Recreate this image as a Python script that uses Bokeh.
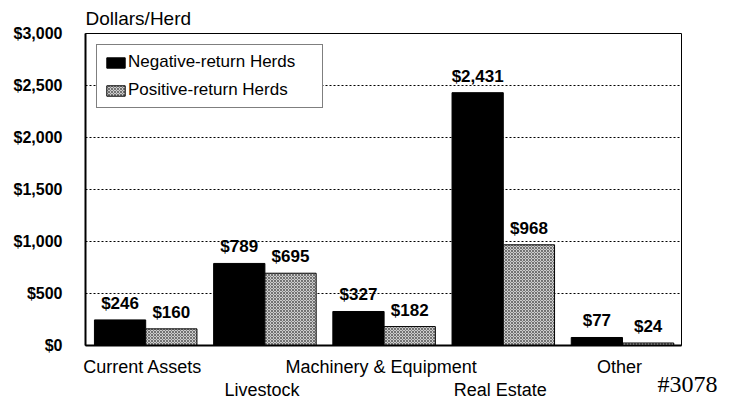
from bokeh.plotting import figure
from bokeh.models import (Range1d, FixedTicker, NumeralTickFormatter, LinearAxis,
                          ColumnDataSource)
from bokeh.core.properties import value
from bokeh.embed import file_html
from bokeh.resources import INLINE
import numpy as np

categories = ["Current Assets", "Livestock", "Machinery & Equipment", "Real Estate", "Other"]
negative = [246, 789, 327, 2431, 77]
positive = [160, 695, 182, 968, 24]
y_ticks = [0, 500, 1000, 1500, 2000, 2500, 3000]
series_names = ["Negative-return Herds", "Positive-return Herds"]
y_label = "Dollars/Herd"
figure_id = "#3078"

FONT = "Liberation Sans"

idx = np.arange(len(categories))
center = idx + 0.505
label_pos = idx + 0.48
bw = 0.43
neg_x = center - bw / 2
pos_x = center + bw / 2

src = ColumnDataSource(dict(
    neg_x=neg_x, pos_x=pos_x, neg=negative, pos=positive,
    neg_lbl=[f"${v:,}" for v in negative], pos_lbl=[f"${v:,}" for v in positive],
))

p = figure(width=730, height=402, output_backend="svg", toolbar_location=None,
           x_range=Range1d(0, len(categories)), y_range=Range1d(0, 3000),
           min_border_left=85, min_border_right=49, min_border_top=33, min_border_bottom=54,
           x_axis_location=None, title=y_label)

p.title.align = "left"
p.title.text_font = FONT
p.title.text_font_size = "19px"
p.title.text_font_style = "normal"
p.title.text_color = "black"
p.title.standoff = 10

p.vbar(x="neg_x", top="neg", width=bw, source=src, fill_color="black",
       line_color="black", legend_label=series_names[0])
p.vbar(x="pos_x", top="pos", width=bw, source=src, fill_color="#cdcdcd",
       line_color="black", hatch_pattern="diagonal_cross", hatch_color="#4a4a4a",
       hatch_scale=3, hatch_weight=0.7, legend_label=series_names[1])

for xcol, ycol, tcol in (("neg_x", "neg", "neg_lbl"), ("pos_x", "pos", "pos_lbl")):
    p.text(x=xcol, y=ycol, text=tcol, source=src, text_align="center",
           text_baseline="bottom", y_offset=-7, text_font=value(FONT),
           text_font_size="17px", text_font_style="bold", text_color="black")

# y axis
p.yaxis.ticker = FixedTicker(ticks=y_ticks)
p.yaxis.formatter = NumeralTickFormatter(format="$0,0")
p.yaxis.major_tick_line_color = None
p.yaxis.minor_tick_line_color = None
p.yaxis.axis_line_width = 2
p.yaxis.axis_line_color = "black"
p.yaxis.major_label_standoff = 17
p.yaxis.major_label_text_font = FONT
p.yaxis.major_label_text_font_size = "16px"
p.yaxis.major_label_text_font_style = "bold"
p.yaxis.major_label_text_color = "black"

# staggered x axes
row1 = [i for i in range(len(categories)) if i % 2 == 0]
row2 = [i for i in range(len(categories)) if i % 2 == 1]
ax1 = LinearAxis(ticker=FixedTicker(ticks=[float(label_pos[i]) for i in row1]),
                 major_label_overrides={float(label_pos[i]): categories[i] for i in row1})
ax2 = LinearAxis(ticker=FixedTicker(ticks=[float(label_pos[i]) for i in row2]),
                 major_label_overrides={float(label_pos[i]): categories[i] for i in row2})

# figure id, drawn at the right end of the category axis
end = float(len(categories))
ax3 = LinearAxis(ticker=FixedTicker(ticks=[end]),
                 major_label_overrides={end: "\u00a0\u00a0" + figure_id})

for ax in (ax1, ax2, ax3):
    ax.major_tick_line_color = None
    ax.minor_tick_line_color = None
    ax.major_tick_out = 0
    ax.major_tick_in = 0
    ax.minor_tick_out = 0
    ax.minor_tick_in = 0
    ax.major_label_text_color = "black"
for ax in (ax1, ax2):
    ax.major_label_text_font = FONT
    ax.major_label_text_font_size = "18px"
ax1.axis_line_width = 2
ax1.axis_line_color = "black"
ax1.major_label_standoff = 11
ax2.axis_line_color = None
ax2.major_label_standoff = 0
ax3.axis_line_color = None
ax3.major_label_text_font = "Liberation Serif"
ax3.major_label_text_font_size = "24px"
ax3.major_label_standoff = -32
p.add_layout(ax1, "below")
p.add_layout(ax2, "below")
p.add_layout(ax3, "below")

# grid
p.xgrid.visible = False
p.ygrid.ticker = FixedTicker(ticks=[500, 1000, 1500, 2000, 2500])
p.ygrid.grid_line_color = "black"
p.ygrid.grid_line_dash = "2 2"
p.ygrid.grid_line_width = 1
p.outline_line_color = "black"
p.outline_line_width = 1

# legend
lg = p.legend[0]
lg.location = "top_left"
lg.margin = 11
lg.padding = 7
lg.spacing = 8
lg.glyph_width = 23
lg.glyph_height = 13
lg.label_height = 20
lg.label_width = 187
lg.label_standoff = 1
lg.label_text_font = FONT
lg.label_text_font_size = "17px"
lg.label_text_color = "black"
lg.border_line_color = "black"
lg.border_line_width = 1
lg.background_fill_alpha = 1

p.background_fill_color = "white"
p.border_fill_color = "white"

open("out.html", "w").write(file_html(p, INLINE))
